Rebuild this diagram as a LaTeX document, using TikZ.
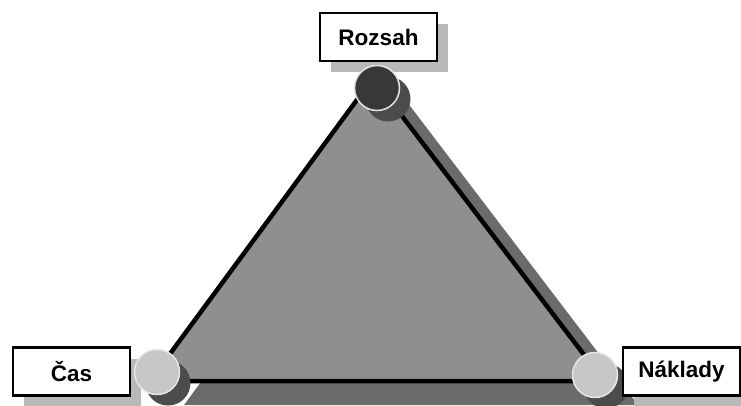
\documentclass[tikz,border=0pt]{standalone}
\usepackage{fontspec}
\setmainfont{Liberation Sans}
\usetikzlibrary{shadows}
\definecolor{trifill}{gray}{0.56}
\definecolor{trishade}{gray}{0.42}
\definecolor{boxshade}{gray}{0.72}
\definecolor{dotshade}{gray}{0.30}
\definecolor{topdot}{gray}{0.22}
\definecolor{cornerdot}{gray}{0.78}
\begin{document}
\begin{tikzpicture}[x=1pt,y=-1pt,
  lbl/.style={draw=black, line width=2.2pt, fill=white,
    font=\fontsize{22.5}{26}\selectfont\bfseries,
    minimum width=117pt, minimum height=48pt, inner sep=0pt,
    drop shadow={shadow xshift=11pt, shadow yshift=-11pt, fill=boxshade, opacity=1}},
  dot/.style={circle, draw=white!90!black, line width=1.5pt, minimum size=45pt, inner sep=0pt,
    drop shadow={shadow xshift=11pt, shadow yshift=-11pt, fill=dotshade, opacity=1}},
  edge/.style={line width=4.5pt, line join=miter}]
\useasboundingbox (0,0) rectangle (741,405);
% triangle
\coordinate (A) at (373,78);
\coordinate (B) at (150,381);
\coordinate (C) at (604,381);
\fill[trishade] ([shift={(34,24)}]A) -- ([shift={(34,24)}]B) -- ([shift={(34,24)}]C) -- cycle;
\fill[trifill] (A) -- (B) -- (C) -- cycle;
\draw[edge] (A) -- (B) -- (C) -- cycle;
% labels and vertex dots
\node[lbl] (rozsah) at (378.5,37) {Rozsah};
\node[dot, fill=topdot] (dtop) at (377,88) {};
\node[lbl] (cas) at (71.5,371.5) {Čas};
\node[dot, fill=cornerdot] (dleft) at (157,372) {};
\node[dot, fill=cornerdot] (dright) at (595,375) {};
\node[lbl] (naklady) at (681.5,371.5) {Náklady};
\end{tikzpicture}
\end{document}
